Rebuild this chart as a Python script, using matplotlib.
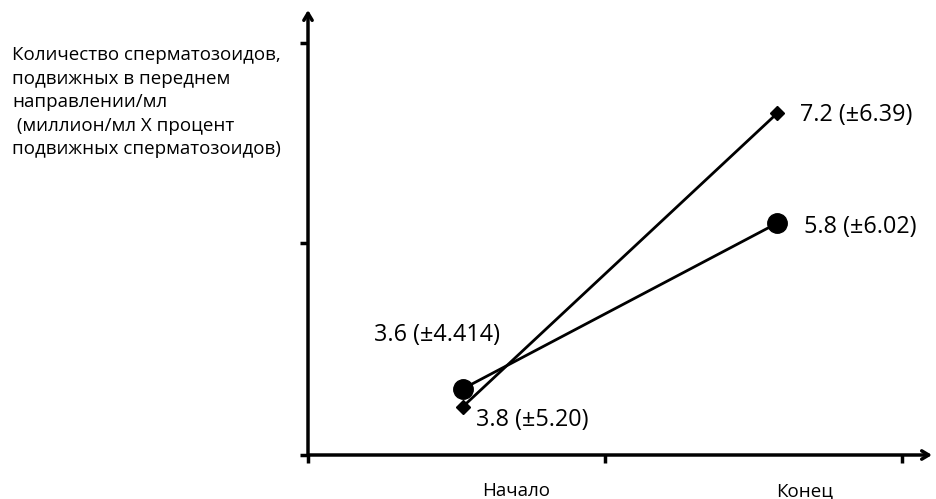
import numpy as np
import matplotlib.pyplot as plt

plt.rcParams['font.family'] = ['Open Sans', 'DejaVu Sans']

# Данные (положение точек на схеме)
time_x = [0.52, 1.58]
circle_y = [0.66, 2.32]
diamond_y = [0.48, 3.42]
circle_labels = ["3.6 (±4.414)", "5.8 (±6.02)"]
diamond_labels = ["3.8 (±5.20)", "7.2 (±6.39)"]
categories = ["Начало", "Конец"]
category_x = [0.70, 1.67]
x_ticks = [0, 1, 2]
y_ticks = [0, 2.12, 4.12]
ylabel = ("Количество сперматозоидов,\nподвижных в переднем\nнаправлении/мл\n"
          " (миллион/мл X процент\nподвижных сперматозоидов)")

fig = plt.figure(figsize=(9.36, 4.99), dpi=100)
ax = fig.add_axes([308/936, 44/499, 624/936, 445/499])
ax.set_xlim(0, 2.1)
ax.set_ylim(0, 4.45)

for s in ax.spines.values():
    s.set_visible(False)

# оси со стрелками
ax.annotate("", xy=(0, 1), xytext=(0, 0), xycoords="axes fraction",
            arrowprops=dict(arrowstyle="->,head_length=0.5,head_width=0.3", lw=2.5, color="black",
                            shrinkA=0, shrinkB=0))
ax.annotate("", xy=(1, 0), xytext=(0, 0), xycoords="axes fraction",
            arrowprops=dict(arrowstyle="->,head_length=0.5,head_width=0.3", lw=2.5, color="black",
                            shrinkA=0, shrinkB=0))

ax.set_xticks(x_ticks)
ax.set_yticks(y_ticks)
ax.set_xticklabels([])
ax.set_yticklabels([])
ax.tick_params(axis="both", direction="out", length=6, width=2.5, color="black")

# линии
ax.plot(time_x, circle_y, color="black", lw=2, marker="o", markersize=14, clip_on=False)
ax.plot(time_x, diamond_y, color="black", lw=2, marker="D", markersize=7, clip_on=False)

# подписи значений
fs = 16.8
ax.annotate(circle_labels[0], (time_x[0], circle_y[0]), xytext=(-64, 39),
            textcoords="offset points", fontsize=fs, ha="left", va="center")
ax.annotate(diamond_labels[0], (time_x[0], diamond_y[0]), xytext=(10, -9),
            textcoords="offset points", fontsize=fs, ha="left", va="center")
ax.annotate(diamond_labels[1], (time_x[1], diamond_y[1]), xytext=(16.5, -1.5),
            textcoords="offset points", fontsize=fs, ha="left", va="center")
ax.annotate(circle_labels[1], (time_x[1], circle_y[1]), xytext=(19, -3),
            textcoords="offset points", fontsize=fs, ha="left", va="center")

# категории
for cx, lab in zip(category_x, categories):
    ax.text(cx, -0.36, lab, ha="center", va="center", fontsize=13.5, clip_on=False)

fig.text(12/936, 1 - 46/499, ylabel, ha="left", va="top", fontsize=13.5,
         linespacing=1.4)

fig.savefig("out.png", dpi=100)
